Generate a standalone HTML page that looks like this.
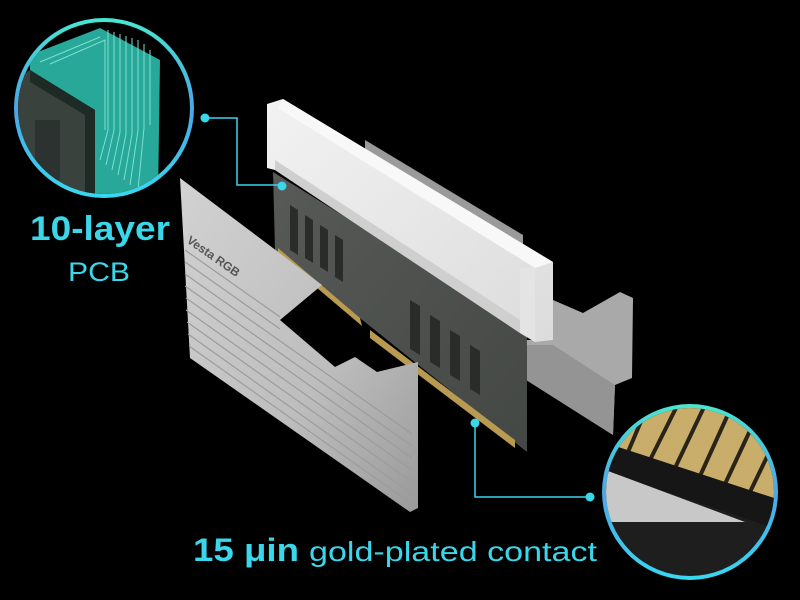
<!DOCTYPE html>
<html><head><meta charset="utf-8"><style>
html,body{margin:0;padding:0;background:#000;}
svg{display:block}
</style></head><body>
<svg width="800" height="600" viewBox="0 0 800 600" xmlns="http://www.w3.org/2000/svg">
<defs>
<linearGradient id="ring" x1="0" y1="0" x2="0" y2="1">
<stop offset="0" stop-color="#48e6d2"/><stop offset="0.5" stop-color="#4aa6e6"/><stop offset="1" stop-color="#38d8f0"/></linearGradient>
<linearGradient id="silver" x1="0" y1="0" x2="1" y2="1">
<stop offset="0" stop-color="#d2d2d2"/><stop offset="0.6" stop-color="#bdbdbd"/><stop offset="1" stop-color="#9a9a9a"/></linearGradient>
<linearGradient id="white" x1="0" y1="0" x2="1" y2="1">
<stop offset="0" stop-color="#f2f2f2"/><stop offset="1" stop-color="#dcdcdc"/></linearGradient>
<linearGradient id="pcb" x1="0" y1="0" x2="1" y2="1">
<stop offset="0" stop-color="#575a57"/><stop offset="1" stop-color="#444845"/></linearGradient>
<clipPath id="c1"><circle cx="104" cy="108" r="86"/></clipPath>
<clipPath id="c2"><circle cx="690" cy="492" r="84"/></clipPath>
</defs>
<rect width="800" height="600" fill="#000"/>

<!-- gray strip behind white -->
<polygon points="365,140 523,235 523,250 365,155" fill="#9a9a9a"/>

<!-- right heatsink -->
<polygon points="553,300 583,313 620,292 633,298 632,378 615,385 613,435 523,378 523,340 553,340" fill="#a9a9a9"/>
<polygon points="523,345 553,345 615,385 613,435 523,378" fill="#949494"/>

<!-- PCB -->
<polygon points="273,172 527,330 527,452 275,250" fill="url(#pcb)"/>
<g fill="#2a2c2a">
<polygon points="290,205 298,210 298,255 290,250"/><polygon points="305,215 313,220 313,263 305,258"/>
<polygon points="320,225 328,230 328,272 320,267"/><polygon points="335,235 343,240 343,282 335,277"/>
<polygon points="410,300 420,306 420,355 410,349"/><polygon points="430,315 440,321 440,368 430,362"/>
<polygon points="450,330 460,336 460,381 450,375"/><polygon points="470,345 480,351 480,395 470,389"/>
</g>
<polygon points="278,248 360,318 362,326 278,255" fill="#b89a50"/>
<polygon points="370,330 515,440 515,448 370,338" fill="#b89a50"/>

<!-- white top heatsink -->
<polygon points="267,104 283,99 553,262 553,340 535,342 520,333 275,170 267,168" fill="url(#white)"/>
<polygon points="283,99 553,262 535,268 278,108" fill="#f8f8f8"/>
<polygon points="520,268 535,268 535,342 520,333" fill="#e4e4e4"/>
<polygon points="275,160 520,320 520,333 275,170" fill="#cfcfcf"/>

<!-- left silver heatsink -->
<polygon points="180,178 322,285 280,320 335,367 355,357 377,372 418,362 418,508 410,512 190,358" fill="url(#silver)"/>
<polygon points="293,324 320,301 348,318 338,360" fill="#000"/>
<g stroke="#9c9c9c" stroke-width="1.2">
<line x1="185" y1="250" x2="280" y2="317"/><line x1="185" y1="262" x2="280" y2="329"/>
<line x1="185" y1="274" x2="412" y2="434"/><line x1="185" y1="286" x2="412" y2="446"/>
<line x1="186" y1="298" x2="412" y2="458"/><line x1="186" y1="310" x2="412" y2="470"/>
<line x1="187" y1="322" x2="412" y2="482"/><line x1="188" y1="334" x2="412" y2="494"/>
<line x1="189" y1="346" x2="412" y2="504"/>
</g>
<text x="186" y="242" fill="#555" font-family="Liberation Sans, sans-serif" font-size="12" font-weight="bold" transform="rotate(35 186 242)">Vesta RGB</text>

<!-- connectors -->
<g stroke="#3ad6ea" stroke-width="1.5" fill="none">
<polyline points="205,118 237,118 237,185 280,185"/>
<polyline points="475,423 475,497 590,497"/>
</g>
<g fill="#3ad6ea"><circle cx="205" cy="118" r="4.5"/><circle cx="282" cy="186" r="4.5"/><circle cx="475" cy="423" r="4.5"/><circle cx="590" cy="497" r="4.5"/></g>

<!-- top-left circle -->
<circle cx="104" cy="108" r="90" fill="url(#ring)"/>
<circle cx="104" cy="108" r="86" fill="#000"/>
<g clip-path="url(#c1)">
<polygon points="30,55 100,28 160,60 158,200 85,200 30,200" fill="#27a898"/>
<polygon points="10,85 30,70 95,110 90,200 10,200" fill="#3a423e"/>
<g stroke="#7fe0d0" stroke-width="1" fill="none">
<polyline points="40,62 100,37"/><polyline points="50,64 105,40 105,130"/>
<polyline points="108,30 108,130 100,160"/><polyline points="114,32 114,130 106,165"/>
<polyline points="120,34 120,132 112,170"/><polyline points="126,36 126,134 118,175"/>
<polyline points="132,38 132,134 124,180"/><polyline points="138,40 138,130 130,185"/>
<polyline points="144,44 144,128 138,190"/><polyline points="150,50 150,125"/>
</g>
<polygon points="30,70 95,110 95,200 85,200 85,115 30,82" fill="#1d2a26"/>
<rect x="35" y="120" width="25" height="60" fill="#2b322f"/>
</g>

<!-- bottom-right circle -->
<circle cx="690" cy="492" r="88" fill="url(#ring)"/>
<circle cx="690" cy="492" r="84" fill="#1e1e1e"/>
<g clip-path="url(#c2)">
<polygon points="600,400 780,400 780,500 618,447" fill="#c9ad6a"/>
<g stroke="#2a2418" stroke-width="4">
<line x1="650" y1="400" x2="628" y2="452"/><line x1="680" y1="400" x2="650" y2="460"/>
<line x1="705" y1="405" x2="675" y2="468"/><line x1="730" y1="410" x2="700" y2="476"/>
<line x1="755" y1="420" x2="725" y2="484"/><line x1="780" y1="430" x2="750" y2="492"/>
</g>
<polygon points="600,445 618,447 780,500 780,530 600,470" fill="#161616"/>
<polygon points="600,468 745,522 600,522" fill="#c8c8c8"/>
</g>

<!-- text -->
<text x="30" y="240" fill="#3ad6ea" font-family="Liberation Sans, sans-serif" font-size="34" font-weight="bold" textLength="140" lengthAdjust="spacingAndGlyphs">10-layer</text>
<text x="68" y="281" fill="#3ad6ea" font-family="Liberation Sans, sans-serif" font-size="27" textLength="62" lengthAdjust="spacingAndGlyphs">PCB</text>
<text x="193" y="561" fill="#3ad6ea" font-family="Liberation Sans, sans-serif" font-size="32" font-weight="bold" textLength="106" lengthAdjust="spacingAndGlyphs">15 μin</text>
<text x="309" y="561" fill="#3ad6ea" font-family="Liberation Sans, sans-serif" font-size="28" textLength="288" lengthAdjust="spacingAndGlyphs">gold-plated contact</text>
</svg>
</body></html>
